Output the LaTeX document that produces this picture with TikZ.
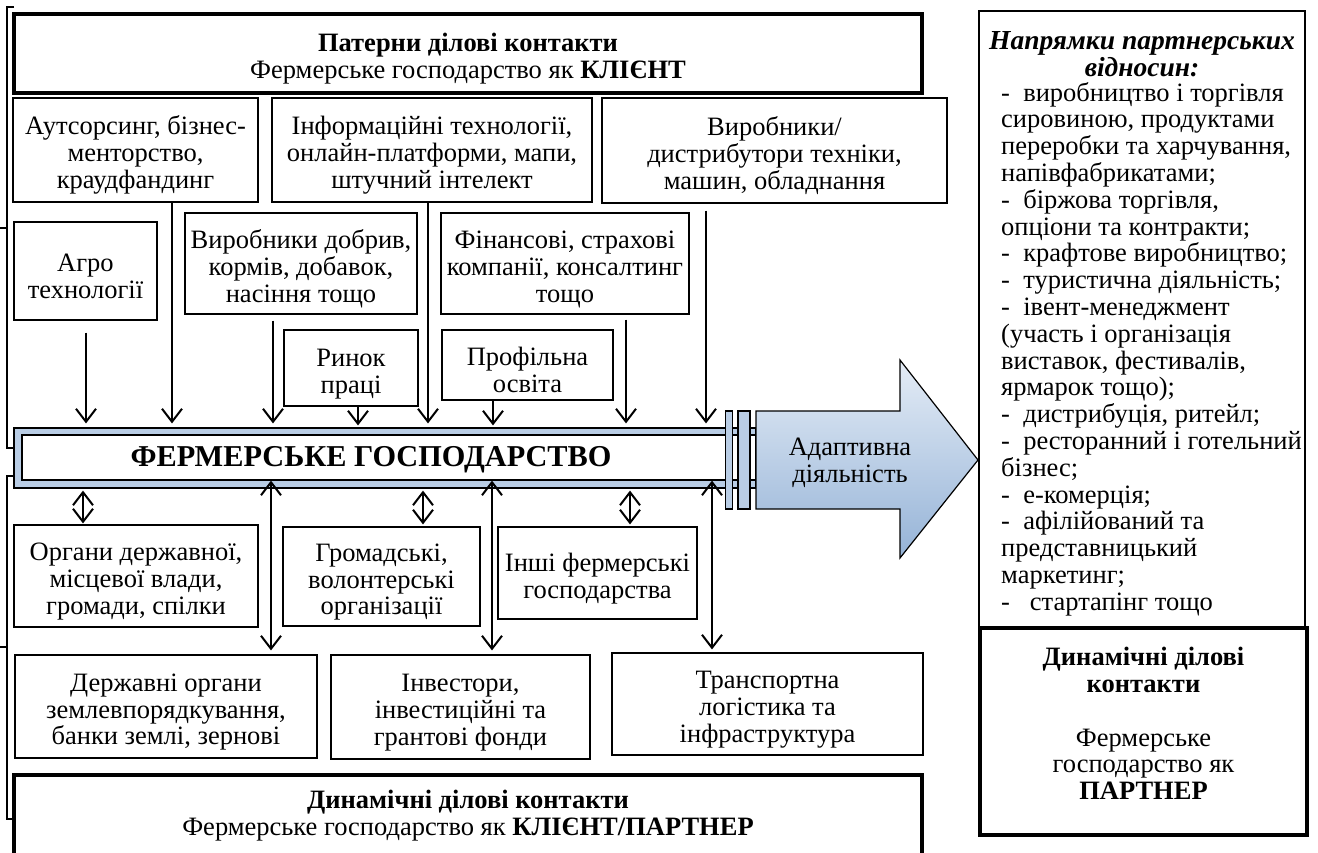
\documentclass[tikz,border=0pt]{standalone}
\usepackage{fontspec}
\setmainfont{Liberation Serif}
\usetikzlibrary{arrows.meta,calc}
\newcommand\fsz{\fontsize{26.5}{26.8}\selectfont\lineskiplimit=-30pt\lineskip=0pt}
\newcommand\fbar{\fontsize{30.3}{32}\selectfont\bfseries}
\newcommand\ftitle{\fontsize{27.5}{26.8}\selectfont\lineskiplimit=-30pt\lineskip=0pt\bfseries\itshape}
\newcommand\tst{\rule{0pt}{29pt}}
\definecolor{barblue}{RGB}{185,205,229}
\definecolor{arrtop}{RGB}{228,236,246}
\definecolor{arrbot}{RGB}{149,179,215}
\begin{document}
\begin{tikzpicture}[x=1pt,y=-1pt,
  box/.style={draw, line width=1.2pt, fill=white, align=center, inner sep=0pt, font=\fsz},
  thickbox/.style={box, line width=4.5pt},
  thinline/.style={line width=1.2pt},
  arr/.style={line width=2pt, -{Straight Barb[length=13pt,width=20pt]}},
  darr/.style={line width=2pt, {Straight Barb[length=13pt,width=20pt]}-{Straight Barb[length=13pt,width=20pt]}}
]
\useasboundingbox (0,0) rectangle (1318,852);

% brackets on the left
\draw[thinline] (14,7) -- (7,7) -- (7,448) -- (14,448);
\draw[thinline] (0,228) -- (7,228);
\draw[thinline] (14,476) -- (7,476) -- (7,819) -- (13,819);
\draw[thinline] (0,647) -- (7,647);

% top and bottom frames
\node[thickbox, minimum width=908, minimum height=79] (top) at (468,53.5)
  {\tst\textbf{Патерни ділові контакти}\\Фермерське господарство як \textbf{КЛІЄНТ}};
\node[thickbox, minimum width=908, minimum height=81] (bottom) at (468,815.5)
  {\textbf{Динамічні ділові контакти}\\Фермерське господарство як \textbf{КЛІЄНТ/ПАРТНЕР}};

% upper boxes
\node[box, minimum width=245, minimum height=104] (aut) at (135.5,150) {\tst Аутсорсинг, бізнес-\\менторство,\\краудфандинг};
\node[box, minimum width=320, minimum height=104] (inf) at (432,150) {\tst Інформаційні технології,\\онлайн-платформи, мапи,\\штучний інтелект};
\node[box, minimum width=345, minimum height=105] (vyr) at (774.5,150.5) {\tst Виробники/\\дистрибутори техніки,\\машин, обладнання};
\node[box, minimum width=143, minimum height=98] (agro) at (85.5,271) {\tst Агро\\технології};
\node[box, minimum width=232, minimum height=101] (dobr) at (301,263.5) {\tst Виробники добрив,\\кормів, добавок,\\насіння тощо};
\node[box, minimum width=248, minimum height=101] (fin) at (565,263.5) {\tst Фінансові, страхові\\компанії, консалтинг\\тощо};
\node[box, minimum width=134, minimum height=76] (rynok) at (351,368) {\tst Ринок\\праці};
\node[box, minimum width=171, minimum height=70] (prof) at (527.5,365) {\tst Профільна\\освіта};

% lower boxes
\node[box, minimum width=244, minimum height=102] (org) at (136,576) {\tst Органи державної,\\місцевої влади,\\громади, спілки};
\node[box, minimum width=197, minimum height=99] (grom) at (381.5,576.5) {\tst Громадські,\\волонтерські\\організації};
\node[box, minimum width=199, minimum height=92] (inshi) at (597.5,573) {\tst Інші фермерські\\господарства};
\node[box, minimum width=302, minimum height=103] (derzh) at (166,706.5) {\tst Державні органи\\землевпорядкування,\\банки землі, зернові};
\node[box, minimum width=259, minimum height=104] (inv) at (460.5,707) {\tst Інвестори,\\інвестиційні та\\грантові фонди};
\node[box, minimum width=311, minimum height=102] (trans) at (767.5,704) {\tst Транспортна\\логістика та\\інфраструктура};

% central bar
\node[draw, line width=1.2pt, fill=barblue, minimum width=742, minimum height=60, inner sep=0] (barout) at (385,458) {};
\node[draw, line width=1.2pt, fill=white, minimum width=734, minimum height=45, inner sep=0] (barin) at (389,457.5) {};
\node[font=\fbar] (bar) at (371,460) {ФЕРМЕРСЬКЕ ГОСПОДАРСТВО};
\node[draw, line width=1.2pt, fill=barblue, minimum width=7, minimum height=98, inner sep=0] (ring1) at (729,460) {};
\node[draw, line width=1.2pt, fill=barblue, minimum width=12, minimum height=98, inner sep=0] (ring2) at (744,460) {};

% big arrow
\path[draw, line width=1.2pt, top color=arrtop, bottom color=arrbot]
  (756,411) -- (900,411) -- (900,360) -- (978,460) -- (900,558) -- (900,509) -- (756,509) -- cycle;
\node[font=\fsz, align=center] (adapt) at (850,463) {Адаптивна\\діяльність};

% right panel
\node[box, minimum width=326, minimum height=617] (right) at (1142,319.5) {};
\node[font=\ftitle, align=center, inner sep=0] (rtitle) at (1142,54) {Напрямки партнерських\\відносин:};
\node[font=\fsz, align=left, inner sep=0, anchor=west] (rlist) at (1001,349) {%
-~ виробництво і торгівля\\
сировиною, продуктами\\
переробки та харчування,\\
напівфабрикатами;\\
-~ біржова торгівля,\\
опціони та контракти;\\
-~ крафтове виробництво;\\
-~ туристична діяльність;\\
-~ івент-менеджмент\\
(участь і організація\\
виставок, фестивалів,\\
ярмарок тощо);\\
-~ дистрибуція, ритейл;\\
-~ ресторанний і готельний\\
бізнес;\\
-~ е-комерція;\\
-~ афілійований та\\
представницький\\
маркетинг;\\
-~~ стартапінг тощо};
\node[thickbox, minimum width=327, minimum height=207] (rthick) at (1143.5,731.5) {};
\node[font=\fsz, align=center, inner sep=0] (rthicktext) at (1143.5,723.5)
  {\textbf{Динамічні ділові}\\\textbf{контакти}\\[26.8pt]Фермерське\\господарство як\\\textbf{ПАРТНЕР}};

% x positions of connectors
\coordinate (xa) at (86,0);
\coordinate (xb) at (172,0);
\coordinate (xc) at (273,0);
\coordinate (xd) at (358,0);
\coordinate (xe) at (428,0);
\coordinate (xf) at (493,0);
\coordinate (xg) at (626,0);
\coordinate (xh) at (706,0);
\coordinate (xi) at (83,0);
\coordinate (xj) at (271,0);
\coordinate (xk) at (423,0);
\coordinate (xl) at (492,0);
\coordinate (xm) at (630,0);
\coordinate (xn) at (712,0);

% incoming arrows
\draw[arr, shorten <=12pt, shorten >=4pt] (agro.south -| xa) -- (barout.north -| xa);
\draw[arr, shorten >=4pt] (aut.south -| xb) -- (barout.north -| xb);
\draw[arr, shorten <=6pt, shorten >=4pt] (dobr.south -| xc) -- (barout.north -| xc);
\draw[arr, shorten >=2pt] (rynok.south -| xd) -- (barout.north -| xd);
\draw[arr, shorten >=4pt] (inf.south -| xe) -- (barout.north -| xe);
\draw[arr, shorten >=2pt] (prof.south -| xf) -- (barout.north -| xf);
\draw[arr, shorten <=5pt, shorten >=4pt] (fin.south -| xg) -- (barout.north -| xg);
\draw[arr, shorten <=7pt, shorten >=4pt] (vyr.south -| xh) -- (barout.north -| xh);

% two-way links
\draw[darr, shorten <=2pt, shorten >=1pt] (barout.south -| xi) -- (org.north -| xi);
\draw[darr, shorten <=2pt, shorten >=2pt] (barout.south -| xk) -- (grom.north -| xk);
\draw[darr, shorten <=2pt, shorten >=2pt] (barout.south -| xm) -- (inshi.north -| xm);
\draw[darr, shorten >=4pt] (barin.south -| xj) -- (derzh.north -| xj);
\draw[darr, shorten >=4pt] (barin.south -| xl) -- (inv.north -| xl);
\draw[darr, shorten >=3pt] (barin.south -| xn) -- (trans.north -| xn);
\end{tikzpicture}
\end{document}
